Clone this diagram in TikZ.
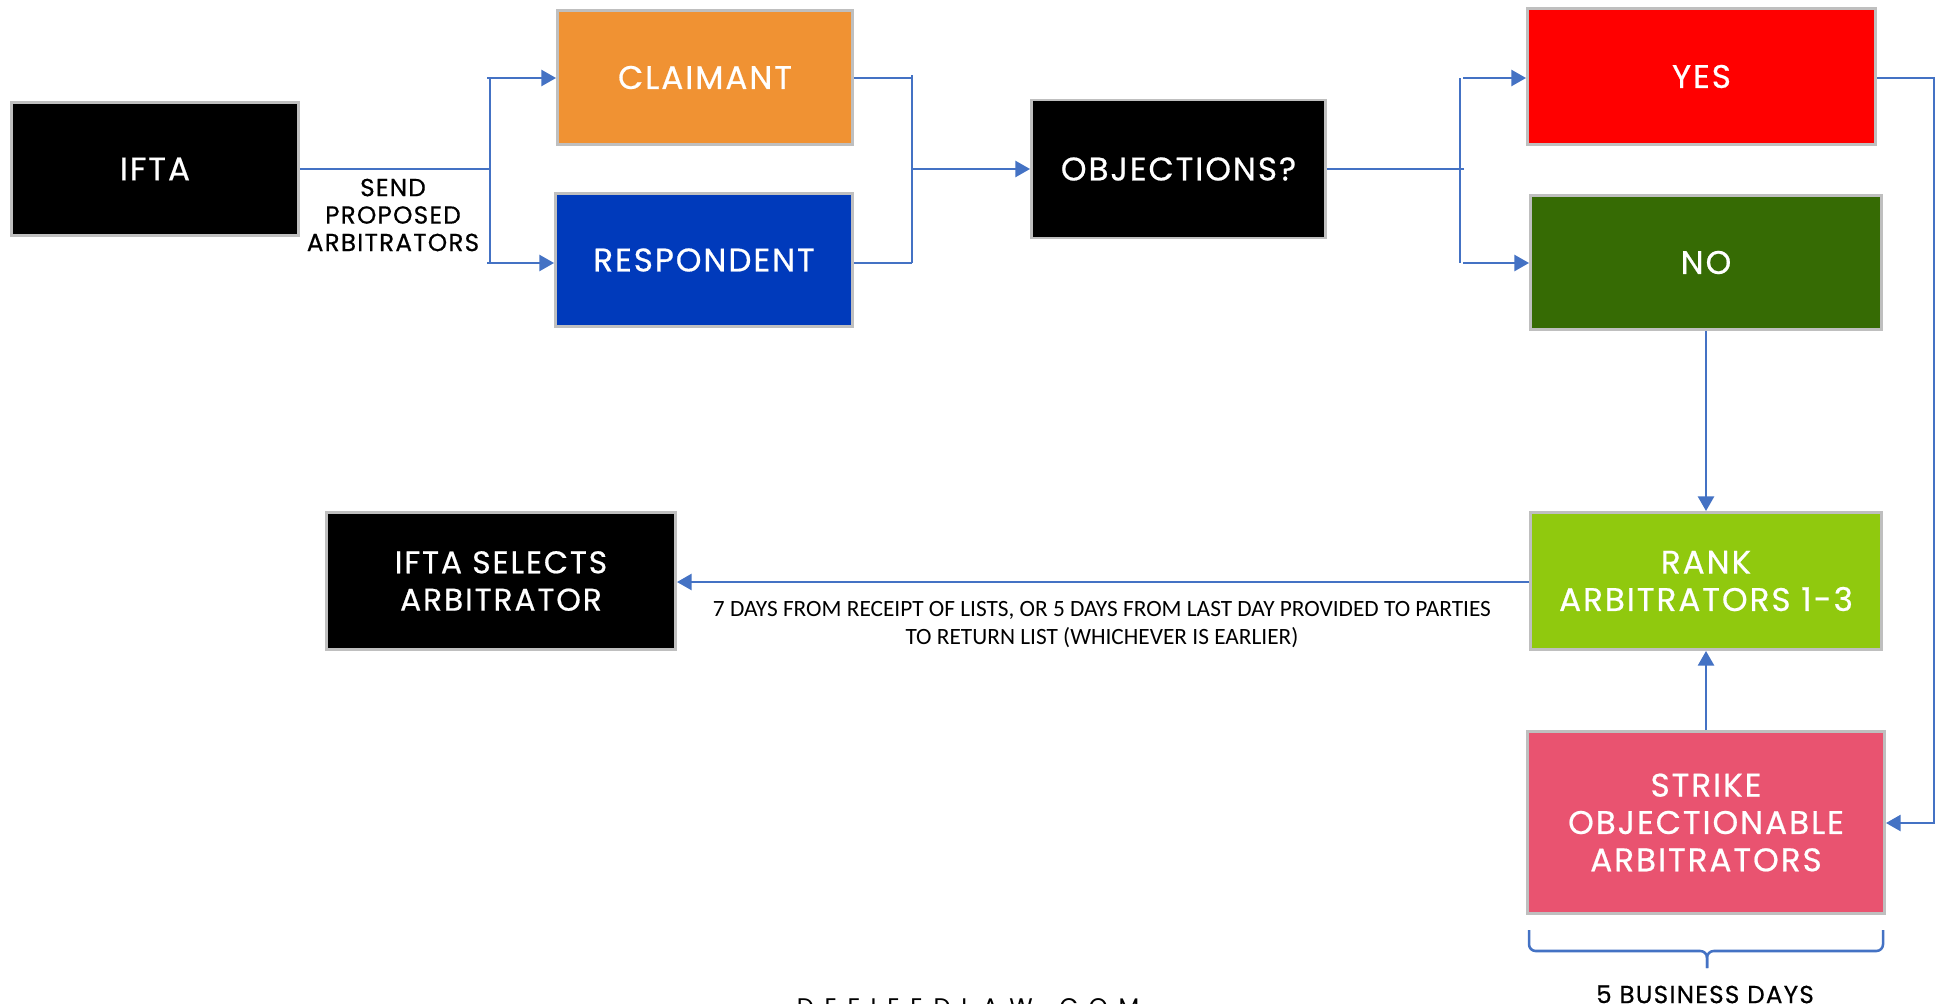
\documentclass[tikz,border=0pt]{standalone}
\usepackage{fontspec}
\setmainfont{Poppins}
\newfontfamily\calib{Carlito}
\newfontfamily\boxfont[LetterSpace=6,FakeBold=0.6]{Poppins}
\newfontfamily\lblfont[LetterSpace=5,FakeBold=0.5]{Poppins}
\newfontfamily\wideletters[LetterSpace=45]{Poppins}
\usetikzlibrary{arrows.meta}
\definecolor{lineblue}{RGB}{68,114,196}
\definecolor{boxgray}{RGB}{191,191,191}
\definecolor{claimorange}{RGB}{240,146,51}
\definecolor{respblue}{RGB}{0,58,187}
\definecolor{yesred}{RGB}{255,0,0}
\definecolor{nogreen}{RGB}{54,107,4}
\definecolor{rankgreen}{RGB}{144,201,14}
\definecolor{strikepink}{RGB}{233,83,112}
\begin{document}
\begin{tikzpicture}[x=0.75pt,y=-0.75pt,
  box/.style={draw=boxgray, line width=2.2pt, text=white, align=center, inner sep=0pt,
    font=\boxfont\fontsize{24.5}{28}\selectfont},
  conn/.style={draw=lineblue, line width=1.9pt},
  arr/.style={conn, -{Triangle[length=11pt,width=12pt]}},
  lbl/.style={text=black, align=center, inner sep=0pt}]
\useasboundingbox (0,0) rectangle (1937,1003);
\clip (0,0) rectangle (1937,1003);
\fill[white] (0,0) rectangle (1937,1003);

% boxes
\node[box, fill=black, minimum width=287*0.75pt, minimum height=133*0.75pt] (ifta) at (155,169) {IFTA};
\node[box, fill=claimorange, minimum width=295*0.75pt, minimum height=134*0.75pt] (claimant) at (705,77.5) {CLAIMANT};
\node[box, fill=respblue, minimum width=297*0.75pt, minimum height=133*0.75pt] (respondent) at (704,260) {RESPONDENT};
\node[box, fill=black, minimum width=294*0.75pt, minimum height=138*0.75pt] (obj) at (1178.5,169) {OBJECTIONS?};
\node[box, fill=yesred, minimum width=348*0.75pt, minimum height=136*0.75pt] (yes) at (1701.5,76.5) {YES};
\node[box, fill=nogreen, minimum width=351*0.75pt, minimum height=134*0.75pt] (no) at (1706,262.5) {NO};
\node[box, fill=rankgreen, minimum width=351*0.75pt, minimum height=137*0.75pt] (rank) at (1706,581) {RANK\\ARBITRATORS 1-3};
\node[box, fill=strikepink, minimum width=357*0.75pt, minimum height=182*0.75pt] (strike) at (1706,822.5) {STRIKE\\OBJECTIONABLE\\ARBITRATORS};
\node[box, fill=black, minimum width=349*0.75pt, minimum height=137*0.75pt, font=\boxfont\fontsize{23.5}{28}\selectfont] (select) at (501,581) {IFTA SELECTS\\ARBITRATOR};

% IFTA -> claimant / respondent
\coordinate (j1) at (490,169);
\coordinate (j1t) at (490,78);
\coordinate (j1b) at (490,263);
\coordinate (j1ts) at (487,78);
\coordinate (j1bs) at (487,263);
\draw[conn] (ifta.east |- j1) -- (j1);
\draw[conn] (j1t) -- (j1b);
\draw[arr] (j1ts) -- (claimant.west |- j1ts);
\draw[arr] (j1bs) -- (respondent.west |- j1bs);
\node[lbl, font=\lblfont\fontsize{18.5}{20.6}\selectfont] (sendlbl) at (393,215) {SEND\\PROPOSED\\ARBITRATORS};

% claimant / respondent -> objections
\coordinate (j2t) at (912,75);
\coordinate (j2ct) at (912,78);
\coordinate (j2b) at (912,263);
\coordinate (j2) at (912,169);
\draw[conn] (claimant.east |- j2ct) -- (j2ct);
\draw[conn] (respondent.east |- j2b) -- (j2b);
\draw[conn] (j2t) -- (j2b);
\draw[arr] (j2) -- (obj.west |- j2);

% objections -> yes / no
\coordinate (j3) at (1464,169);
\coordinate (j3t) at (1460,78);
\coordinate (j3b) at (1460,263);
\coordinate (j3ts) at (1463,78);
\coordinate (j3bs) at (1463,263);
\draw[conn] (obj.east |- j3) -- (j3);
\draw[conn] (j3t) -- (j3b);
\draw[arr] (j3ts) -- (yes.west |- j3ts);
\draw[arr] (j3bs) -- (no.west |- j3bs);

% yes -> strike
\coordinate (yr) at (1934,78);
\coordinate (sr) at (1934,823);
\draw[arr] (yes.east |- yr) -- (yr) -- (sr) -- (strike.east |- sr);

% no -> rank, strike -> rank
\draw[arr] (no.south) -- (rank.north);
\draw[arr] (strike.north) -- (rank.south);

% rank -> select
\coordinate (rs) at (1529,582);
\draw[arr] (rank.west |- rs) -- (select.east |- rs);
\node[lbl, font=\calib\fontsize{17.5}{21}\selectfont] (dayslbl) at (1102,625) {7 DAYS FROM RECEIPT OF LISTS, OR 5 DAYS FROM LAST DAY PROVIDED TO PARTIES\\TO RETURN LIST (WHICHEVER IS EARLIER)};

% brace
\draw[conn, rounded corners=5pt] (1529,930) -- (1529,951) -- (1707,951) -- (1707,968);
\draw[conn, rounded corners=5pt] (1883,930) -- (1883,951) -- (1707,951) -- (1707,968);
\node[lbl, font=\lblfont\fontsize{18.5}{20}\selectfont, anchor=north] (bizlbl) at (1705,985) {5 BUSINESS DAYS};

% clipped footer text
\node[lbl, font=\wideletters\fontsize{18}{20}\selectfont, anchor=north] (footer) at (968,998) {DEFIEEDLAW.COM};
\end{tikzpicture}
\end{document}
